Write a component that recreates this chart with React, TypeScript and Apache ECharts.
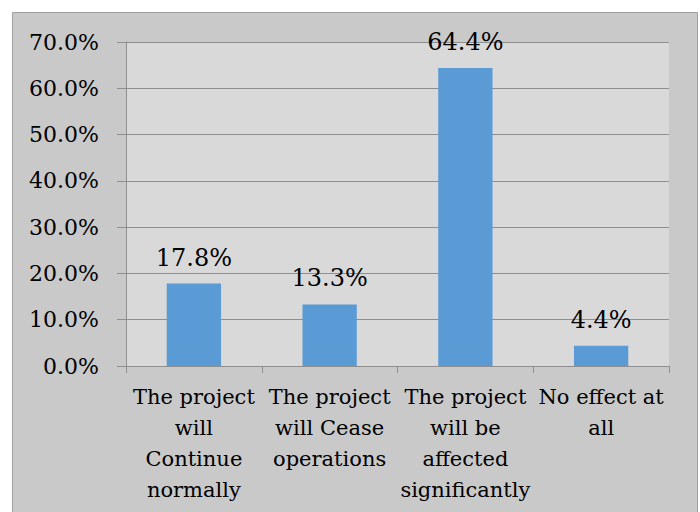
import React, { useEffect, useRef } from "react";
import * as echarts from "echarts";

const categories = [
  "The project\nwill\nContinue\nnormally",
  "The project\nwill Cease\noperations",
  "The project\nwill be\naffected\nsignificantly",
  "No effect at\nall",
];
const values = [17.8, 13.3, 64.4, 4.4];
const yMin = 0;
const yMax = 70;
const yStep = 10;

export default function App() {
  const ref = useRef<HTMLDivElement>(null);
  useEffect(() => {
    const chart = echarts.init(ref.current!, null, { renderer: "svg" });
    const font = "DejaVu Serif";
    chart.setOption({
      animation: false,
      backgroundColor: "#ffffff",
      graphic: [
        {
          type: "rect",
          z: -10,
          silent: true,
          shape: { x: 12.5, y: 12.5, width: 685, height: 520 },
          style: { fill: "#c9c9c9", stroke: "#a0a0a0", lineWidth: 1 },
        },
      ],
      grid: {
        left: 126,
        right: 31,
        top: 42,
        bottom: 146,
        show: true,
        backgroundColor: "#d9d9d9",
        borderWidth: 0,
      },
      xAxis: {
        type: "category",
        data: categories,
        axisLine: { show: true, lineStyle: { color: "#8f8f8f", width: 1 } },
        axisTick: { show: true, length: 7, lineStyle: { color: "#8f8f8f" } },
        axisLabel: {
          interval: 0,
          margin: 15,
          color: "#000",
          fontFamily: font,
          fontSize: 21,
          lineHeight: 31,
        },
      },
      yAxis: {
        type: "value",
        min: yMin,
        max: yMax,
        interval: yStep,
        axisLine: { show: true, lineStyle: { color: "#8f8f8f", width: 1 } },
        axisTick: { show: true, length: 9, lineStyle: { color: "#8f8f8f" } },
        splitLine: { show: true, lineStyle: { color: "#8f8f8f", width: 1 } },
        axisLabel: {
          margin: 27,
          color: "#000",
          fontFamily: font,
          fontSize: 22,
          formatter: (v: number) => v.toFixed(1) + "%",
        },
      },
      series: [
        {
          type: "bar",
          data: values,
          barWidth: "40%",
          itemStyle: { color: "#5b9bd5" },
          label: {
            show: true,
            position: "top",
            distance: 14,
            color: "#000",
            fontFamily: font,
            fontSize: 24,
            formatter: (p: any) => p.value.toFixed(1) + "%",
          },
        },
      ],
    });
    return () => chart.dispose();
  }, []);
  return (
    <div
      ref={ref}
      style={{ position: "absolute", left: 0, top: 0, width: 700, height: 512 }}
    />
  );
}
